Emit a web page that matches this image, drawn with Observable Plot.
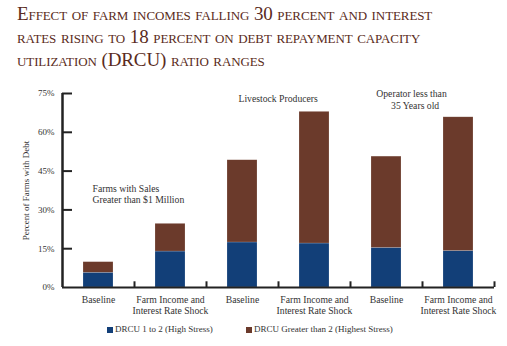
<!DOCTYPE html>
<html><head><meta charset="utf-8">
<script src="https://cdn.jsdelivr.net/npm/d3@7"></script>
<script src="https://cdn.jsdelivr.net/npm/@observablehq/plot@0.6"></script>
<style>
body{margin:0;background:#fff;width:507px;height:346px;overflow:hidden;font-family:"Liberation Serif",serif;}
#title{position:absolute;left:17px;top:2px;font-size:19px;line-height:23px;color:#5a2b21;font-variant:small-caps;white-space:nowrap;letter-spacing:-0.1px;}
#chart{position:absolute;left:0;top:80px;}
#legend{position:absolute;top:324px;left:0;width:507px;font-size:9px;color:#333;}
.sw{position:absolute;width:6px;height:6px;top:3px;}
.lt{position:absolute;top:0;}
</style>
</head><body>
<div id="title"></div>
<div id="chart"></div>
<div id="legend"></div>
<script>
const titleLines = ["Effect of farm incomes falling 30 percent and interest","rates rising to 18 percent on debt repayment capacity","utilization (DRCU) ratio ranges"];
const categories = ["g1-base","g1-shock","g2-base","g2-shock","g3-base","g3-shock"];
const categoryLabels = ["Baseline","Farm Income and\nInterest Rate Shock","Baseline","Farm Income and\nInterest Rate Shock","Baseline","Farm Income and\nInterest Rate Shock"];
const highStress = [5.7, 13.9, 17.4, 17.0, 15.3, 14.1];
const totalStress = [9.8, 24.6, 49.2, 67.9, 50.6, 65.8];
const seriesNames = ["DRCU 1 to 2 (High Stress)","DRCU Greater than 2 (Highest Stress)"];
const seriesColors = ["#123f78","#6b3a2b"];
const yTicks = [0,15,30,45,60,75];
const annotationTexts = ["Farms with Sales\nGreater than $1 Million","Livestock Producers","Operator less than\n   35 Years old"];
const annotationX = ["g1-base","g2-base","g3-base"];
const annotationY = [36.3, 73.0, 72.7];

document.getElementById("title").innerHTML = titleLines.join("<br>");

const data = [];
categories.forEach((c,i)=>{
  data.push({cat:c, series:seriesNames[0], y1:0, y2:highStress[i]});
  data.push({cat:c, series:seriesNames[1], y1:highStress[i], y2:totalStress[i]});
});
const labelMap = new Map(categories.map((c,i)=>[c,categoryLabels[i]]));
const ann = i => [{x:annotationX[i], y:annotationY[i], text:annotationTexts[i]}];

const plot = Plot.plot({
  width:507, height:240,
  marginTop:13, marginBottom:33, marginLeft:62, marginRight:13,
  style:{fontFamily:"Liberation Serif, serif", fontSize:"10px", color:"#333", background:"transparent"},
  x:{type:"band", domain:categories, padding:0},
  y:{domain:[0,75]},
  color:{domain:seriesNames, range:seriesColors},
  marks:[
    Plot.barY(data,{x:"cat", y1:"y1", y2:"y2", fill:"series", insetLeft:21, insetRight:21, stroke:"#fff", strokeOpacity:0.35, strokeWidth:0.5}),
    Plot.axisY({ticks:yTicks, tickSize:0, tickPadding:8, tickFormat:d=>d+"%", fontSize:9, label:"Percent of Farms with Debt", labelAnchor:"center", labelArrow:"none", labelOffset:40}),
    Plot.tickY(yTicks.filter(d=>d>0),{y:d=>d, insetRight:422, stroke:"#222", strokeWidth:2}),
    Plot.axisX({tickSize:0, tickPadding:8, tickFormat:d=>labelMap.get(d), fontSize:9.7, lineHeight:1.1, label:null}),
    Plot.ruleX(categories,{x:d=>d, y1:0, y2:2.2, dx:36, stroke:"#222", strokeWidth:2}),
    Plot.ruleY([0],{stroke:"#222", strokeWidth:2}),
    Plot.ruleX([categories[0]],{x:d=>d, y1:0, y2:75, dx:-36, stroke:"#222", strokeWidth:2.5}),
    Plot.text(ann(0),{x:"x", y:"y", text:"text", textAnchor:"start", dx:-6, fontSize:9.7, lineHeight:1.15, fill:"#333"}),
    Plot.text(ann(1),{x:"x", y:"y", text:"text", textAnchor:"start", dx:-4, fontSize:9.7, lineHeight:1.15, fill:"#333"}),
    Plot.text(ann(2),{x:"x", y:"y", text:"text", textAnchor:"middle", dx:25, fontSize:9.7, lineHeight:1.2, fill:"#333"})
  ]
});
document.getElementById("chart").appendChild(plot);

const legend = document.getElementById("legend");
const legendPos = [107, 246];
seriesNames.forEach((s,i)=>{
  const sw = document.createElement("div"); sw.className="sw"; sw.style.left=legendPos[i]+"px"; sw.style.background=seriesColors[i];
  const t = document.createElement("div"); t.className="lt"; t.style.left=(legendPos[i]+8)+"px"; t.textContent=s;
  legend.appendChild(sw); legend.appendChild(t);
});
</script>
</body></html>
